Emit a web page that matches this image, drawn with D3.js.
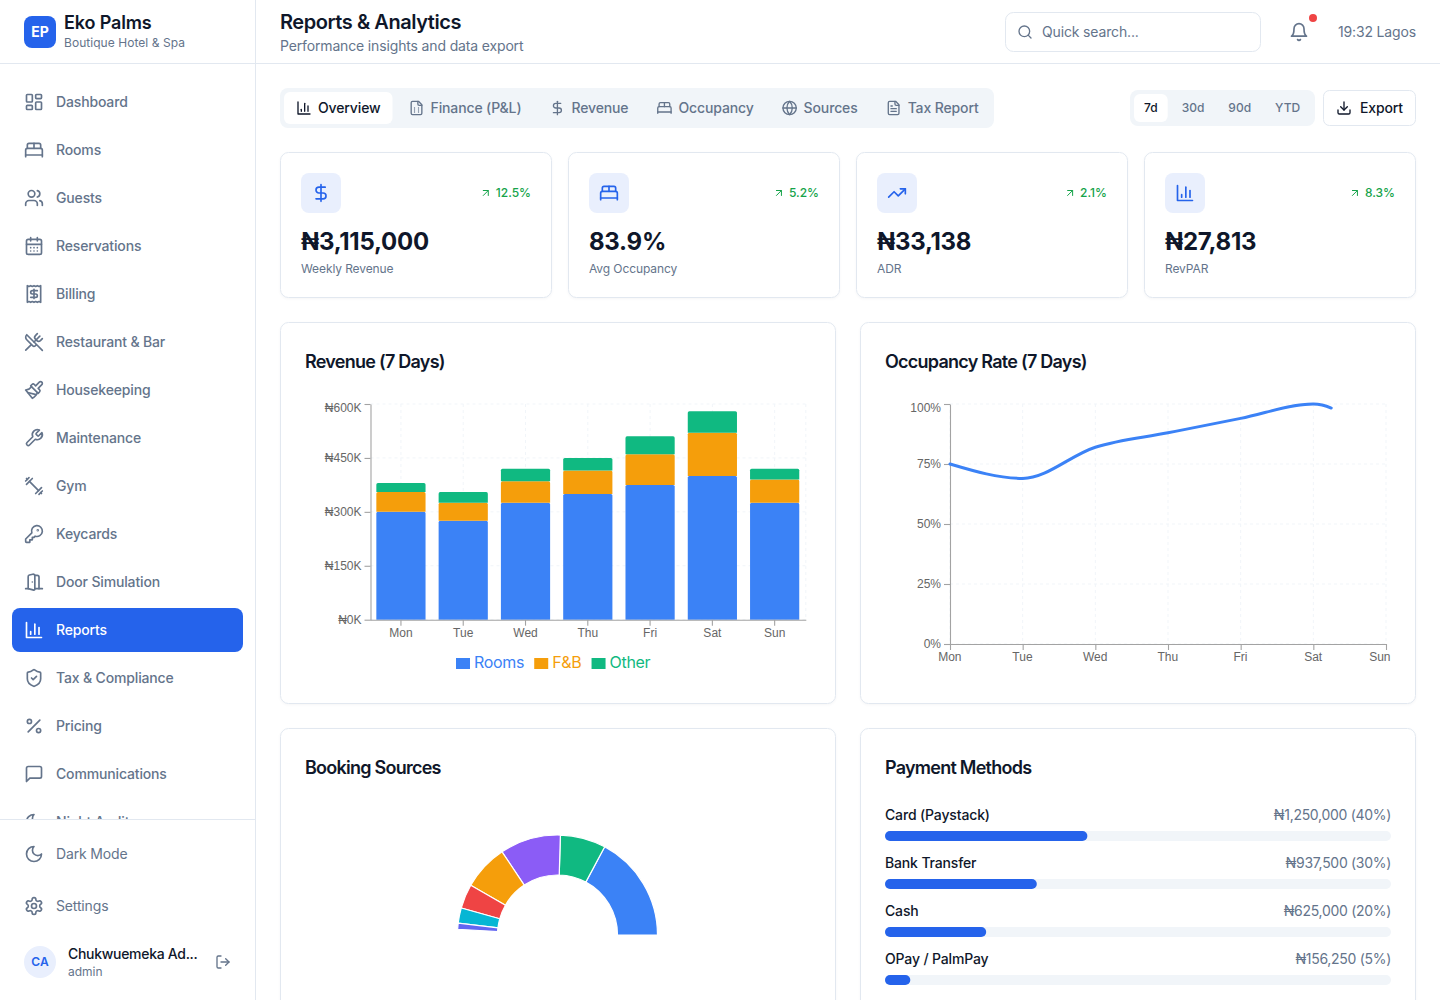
<!DOCTYPE html>
<html lang="en">
<head>
<meta charset="utf-8">
<title>Reports &amp; Analytics</title>
<script src="https://cdn.jsdelivr.net/npm/d3@7"></script>
<style>
html,body{margin:0;padding:0;background:#fff;overflow:hidden}
svg{display:block;font-family:Inter,"Noto Sans",sans-serif;-webkit-font-smoothing:antialiased}
.card{filter:drop-shadow(0 1px 1px rgba(15,23,42,.04))}
</style>
</head>
<body>
<div id="app"></div>
<script>
// ---- chart data ----
const days = ["Mon","Tue","Wed","Thu","Fri","Sat","Sun"];
const roomsRevenue = [300000,275000,325000,350000,375000,400000,325000];
const fnbRevenue = [55000,50000,60000,65000,85000,120000,65000];
const otherRevenue = [25000,30000,35000,35000,50000,60000,30000];
const revenueTicks = [0,150000,300000,450000,600000];
const seriesNames = ["Rooms","F&B","Other"];
const seriesColors = ["#3b82f6","#f59e0b","#10b981"];
const occupancy = [75,69,82,88,94,100,80];
const occupancyTicks = [0,25,50,75,100];
const sourceShares = [35,15,20,15,8,5,2];
const sourceColors = ["#3b82f6","#10b981","#8b5cf6","#f59e0b","#ef4444","#06b6d4","#6366f1"];
const paymentNames = ["Card (Paystack)","Bank Transfer","Cash","OPay / PalmPay"];
const paymentAmounts = ["₦1,250,000","₦937,500","₦625,000","₦156,250"];
const paymentShares = [40,30,20,5];
// ---- page content ----
const navLabels = ["Dashboard","Rooms","Guests","Reservations","Billing","Restaurant & Bar","Housekeeping","Maintenance","Gym","Keycards","Door Simulation","Reports","Tax & Compliance","Pricing","Communications","Night Audit"];
const navIcons = ["dashboard","bed","users","calendar","receipt","utensils","paintbrush","wrench","dumbbell","key","door","bars","shield","percent","message","moon"];
const tabLabels = ["Overview","Finance (P&L)","Revenue","Occupancy","Sources","Tax Report"];
const tabIcons = ["bars","fileCalc","dollar","bed","globe","fileText"];
const rangeLabels = ["7d","30d","90d","YTD"];
const kpiValues = ["₦3,115,000","83.9%","₦33,138","₦27,813"];
const kpiLabels = ["Weekly Revenue","Avg Occupancy","ADR","RevPAR"];
const kpiDeltas = ["12.5%","5.2%","2.1%","8.3%"];
const kpiIcons = ["dollar","bed","trending","bars"];

const BLUE="#2563eb", INK="#0f172a", MUTED="#64748b", LINE="#e2e8f0", SOFT="#f1f5f9", TINT="#e9effd", GREEN="#16a34a";

const ICONS = {
 dashboard:'<rect x="3" y="3" width="7" height="9" rx="1"/><rect x="14" y="3" width="7" height="5" rx="1"/><rect x="14" y="12" width="7" height="9" rx="1"/><rect x="3" y="16" width="7" height="5" rx="1"/>',
 bed:'<path d="M2 20v-8a2 2 0 0 1 2-2h16a2 2 0 0 1 2 2v8"/><path d="M4 10V6a2 2 0 0 1 2-2h12a2 2 0 0 1 2 2v4"/><path d="M12 4v6"/><path d="M2 18h20"/>',
 users:'<path d="M16 21v-2a4 4 0 0 0-4-4H6a4 4 0 0 0-4 4v2"/><circle cx="9" cy="7" r="4"/><path d="M22 21v-2a4 4 0 0 0-3-3.87"/><path d="M16 3.13a4 4 0 0 1 0 7.75"/>',
 calendar:'<rect x="3" y="4" width="18" height="18" rx="2"/><path d="M16 2v4M8 2v4M3 10h18M8 14h.01M12 14h.01M16 14h.01M8 18h.01M12 18h.01M16 18h.01"/>',
 receipt:'<path d="M4 2v20l2-1 2 1 2-1 2 1 2-1 2 1 2-1 2 1V2l-2 1-2-1-2 1-2-1-2 1-2-1-2 1Z"/><path d="M16 8h-6a2 2 0 1 0 0 4h4a2 2 0 1 1 0 4H8"/><path d="M12 17.5v-11"/>',
 utensils:'<path d="m16 2-2.3 2.3a3 3 0 0 0 0 4.2l1.8 1.8a3 3 0 0 0 4.2 0L22 8"/><path d="M15 15 3.3 3.3a4.2 4.2 0 0 0 0 6l7.3 7.3c.7.7 2 .7 2.8 0L15 15Zm0 0 7 7"/><path d="m2.1 21.8 6.4-6.3"/><path d="m19 5-7 7"/>',
 paintbrush:'<path d="M18.37 2.63 14 7l-1.59-1.59a2 2 0 0 0-2.82 0L8 7l9 9 1.59-1.59a2 2 0 0 0 0-2.82L17 10l4.37-4.37a2.12 2.12 0 1 0-3-3Z"/><path d="M9 8c-2 3-4 3.5-7 4l8 10c2-1 6-5 6-7"/><path d="M14.5 17.5 4.5 15"/>',
 wrench:'<path d="M14.7 6.3a1 1 0 0 0 0 1.4l1.6 1.6a1 1 0 0 0 1.4 0l3.77-3.77a6 6 0 0 1-7.94 7.94l-6.91 6.91a2.12 2.12 0 0 1-3-3l6.91-6.91a6 6 0 0 1 7.94-7.94l-3.76 3.76z"/>',
 dumbbell:'<path d="m6.5 6.5 11 11"/><path d="m21 21-1-1"/><path d="m3 3 1 1"/><path d="m18 22 4-4"/><path d="m2 6 4-4"/><path d="m3 10 7-7"/><path d="m14 21 7-7"/>',
 key:'<path d="M2 18v3c0 .6.4 1 1 1h4v-3h3v-3h2l1.4-1.4a6.5 6.5 0 1 0-4-4Z"/><circle cx="16.5" cy="7.5" r=".5"/>',
 door:'<path d="M13 4h3a2 2 0 0 1 2 2v14"/><path d="M2 20h3"/><path d="M13 20h9"/><path d="M10 12v.01"/><path d="M13 4.562v16.157a1 1 0 0 1-1.242.97L5 20V5.562a2 2 0 0 1 1.515-1.94l4-1A2 2 0 0 1 13 4.561Z"/>',
 bars:'<path d="M3 3v18h18"/><path d="M18 17V9"/><path d="M13 17V5"/><path d="M8 17v-3"/>',
 shield:'<path d="M20 13c0 5-3.5 7.5-7.66 8.95a1 1 0 0 1-.67-.01C7.5 20.5 4 18 4 13V6a1 1 0 0 1 1-1c2 0 4.5-1.2 6.24-2.72a1.17 1.17 0 0 1 1.52 0C14.51 3.81 17 5 19 5a1 1 0 0 1 1 1z"/><path d="m9 12 2 2 4-4"/>',
 percent:'<path d="M19 5 5 19"/><circle cx="6.5" cy="6.5" r="2.5"/><circle cx="17.5" cy="17.5" r="2.5"/>',
 message:'<path d="M21 15a2 2 0 0 1-2 2H7l-4 4V5a2 2 0 0 1 2-2h14a2 2 0 0 1 2 2z"/>',
 moon:'<path d="M12 3a6 6 0 0 0 9 9 9 9 0 1 1-9-9Z"/>',
 settings:'<path d="M12.22 2h-.44a2 2 0 0 0-2 2v.18a2 2 0 0 1-1 1.73l-.43.25a2 2 0 0 1-2 0l-.15-.08a2 2 0 0 0-2.73.73l-.22.38a2 2 0 0 0 .73 2.73l.15.1a2 2 0 0 1 1 1.72v.51a2 2 0 0 1-1 1.74l-.15.09a2 2 0 0 0-.73 2.73l.22.38a2 2 0 0 0 2.73.73l.15-.08a2 2 0 0 1 2 0l.43.25a2 2 0 0 1 1 1.73V20a2 2 0 0 0 2 2h.44a2 2 0 0 0 2-2v-.18a2 2 0 0 1 1-1.73l.43-.25a2 2 0 0 1 2 0l.15.08a2 2 0 0 0 2.73-.73l.22-.39a2 2 0 0 0-.73-2.73l-.15-.08a2 2 0 0 1-1-1.74v-.5a2 2 0 0 1 1-1.74l.15-.09a2 2 0 0 0 .73-2.73l-.22-.38a2 2 0 0 0-2.73-.73l-.15.08a2 2 0 0 1-2 0l-.43-.25a2 2 0 0 1-1-1.73V4a2 2 0 0 0-2-2z"/><circle cx="12" cy="12" r="3"/>',
 logout:'<path d="M9 21H5a2 2 0 0 1-2-2V5a2 2 0 0 1 2-2h4"/><path d="m16 17 5-5-5-5"/><path d="M21 12H9"/>',
 search:'<circle cx="11" cy="11" r="8"/><path d="m21 21-4.3-4.3"/>',
 bell:'<path d="M6 8a6 6 0 0 1 12 0c0 7 3 9 3 9H3s3-2 3-9"/><path d="M10.3 21a1.94 1.94 0 0 0 3.4 0"/>',
 fileCalc:'<path d="M15 2H6a2 2 0 0 0-2 2v16a2 2 0 0 0 2 2h12a2 2 0 0 0 2-2V7Z"/><path d="M14 2v4a2 2 0 0 0 2 2h4"/><path d="M9 12h.01M15 12h.01M9 15h.01M15 15h.01M9 18h.01M15 18h.01"/>',
 fileText:'<path d="M15 2H6a2 2 0 0 0-2 2v16a2 2 0 0 0 2 2h12a2 2 0 0 0 2-2V7Z"/><path d="M14 2v4a2 2 0 0 0 2 2h4"/><path d="M10 9H8"/><path d="M16 13H8"/><path d="M16 17H8"/>',
 dollar:'<path d="M12 2v20"/><path d="M17 5H9.5a3.5 3.5 0 0 0 0 7h5a3.5 3.5 0 0 1 0 7H6"/>',
 globe:'<circle cx="12" cy="12" r="10"/><path d="M12 2a14.5 14.5 0 0 0 0 20 14.5 14.5 0 0 0 0-20"/><path d="M2 12h20"/>',
 download:'<path d="M21 15v4a2 2 0 0 1-2 2H5a2 2 0 0 1-2-2v-4"/><path d="m7 10 5 5 5-5"/><path d="M12 15V3"/>',
 trending:'<path d="m22 7-8.5 8.5-5-5L2 17"/><path d="M16 7h6v6"/>',
 arrow:'<path d="M7 7h10v10"/><path d="M7 17 17 7"/>'
};

const svg = d3.select("#app").append("svg").attr("width",1440).attr("height",1000).attr("viewBox","0 0 1440 1000");
svg.append("rect").attr("width",1440).attr("height",1000).attr("fill","#fff");

function txt(p,x,y,s,o={}){
  const size=o.size||14;
  const lift=size<=16?1:(size===18?.5:0);
  const ls=o.ls!==undefined?o.ls:(size===14?-.15:(size===12?-.1:0));
  const t=p.append("text").attr("x",x).attr("y",y-lift).attr("dominant-baseline","central")
    .attr("font-size",size).attr("font-weight",o.weight||400).attr("fill",o.fill||INK)
    .attr("text-anchor",o.anchor||"start").text(s);
  if(ls) t.attr("letter-spacing",ls+"px");
  return t;
}
function icon(p,name,cx,cy,size,color,sw=2){
  const k=size/24;
  p.append("g").attr("transform",`translate(${cx-size/2},${cy-size/2}) scale(${k})`)
    .attr("fill","none").attr("stroke",color).attr("stroke-width",sw)
    .attr("stroke-linecap","round").attr("stroke-linejoin","round").html(ICONS[name]);
}
function box(p,x,y,w,h,r,fill,stroke,cls){
  const b=p.append("rect").attr("x",x+(stroke?.5:0)).attr("y",y+(stroke?.5:0)).attr("width",w-(stroke?1:0)).attr("height",h-(stroke?1:0)).attr("rx",r).attr("fill",fill);
  if(stroke) b.attr("stroke",stroke);
  if(cls) b.attr("class",cls);
  return b;
}
function hline(x1,x2,y){svg.append("line").attr("x1",x1).attr("x2",x2).attr("y1",y).attr("y2",y).attr("stroke",LINE);}

// ---- sidebar ----
const side=svg.append("g");
const defs=svg.append("defs");
defs.append("clipPath").attr("id","navClip").append("rect").attr("x",0).attr("y",64).attr("width",255).attr("height",755);
box(side,24,16,32,32,8,BLUE);
txt(side,40,32.5,"EP",{size:14,weight:700,fill:"#fff",anchor:"middle",ls:0});
txt(side,64,22.5,"Eko Palms",{size:18,weight:600,ls:-.15});
txt(side,64,43.2,"Boutique Hotel & Spa",{size:12,fill:MUTED,ls:.05});
const nav=side.append("g").attr("clip-path","url(#navClip)");
navLabels.forEach((label,i)=>{
  const y=102+48*i, on=label==="Reports", c=on?"#fff":MUTED;
  if(on) box(nav,12,y-22,231,44,8,BLUE);
  icon(nav,navIcons[i],34,y,20,c);
  txt(nav,56,y,label,{weight:500,fill:c});
});
hline(0,255,819.5); hline(0,255,63.5);
svg.append("line").attr("x1",255.5).attr("x2",255.5).attr("y1",0).attr("y2",1000).attr("stroke",LINE);
icon(side,"moon",34,854,20,MUTED); txt(side,56,854,"Dark Mode",{fill:MUTED});
icon(side,"settings",34,906,20,MUTED); txt(side,56,906,"Settings",{fill:MUTED});
side.append("circle").attr("cx",40).attr("cy",962).attr("r",16).attr("fill",TINT);
txt(side,40,962.5,"CA",{size:12,weight:600,fill:BLUE,anchor:"middle",ls:0});
txt(side,68,954,"Chukwuemeka Ad...",{weight:500,ls:-.3});
txt(side,68,972,"admin",{size:12,fill:MUTED,ls:0});
icon(side,"logout",223,962,16,MUTED);

// ---- header ----
const head=svg.append("g");
hline(256,1440,63.5);
txt(head,280,22,"Reports & Analytics",{size:20,weight:600,ls:-.45});
txt(head,280,46,"Performance insights and data export",{fill:MUTED});
box(head,1005,12,256,40,8,"#fff",LINE);
icon(head,"search",1025,32,16,MUTED);
txt(head,1042,32,"Quick search...",{fill:MUTED});
icon(head,"bell",1299,32,20,MUTED);
head.append("circle").attr("cx",1313).attr("cy",18).attr("r",4).attr("fill","#ef4444");
txt(head,1416,32,"19:32 Lagos",{fill:MUTED,anchor:"end"});

// ---- tabs ----
const tabs=svg.append("g");
box(tabs,280,88,714,40,8,SOFT);
let tx=284;
tabLabels.forEach((label,i)=>{
  const on=i===0, c=on?INK:MUTED;
  const bg=tabs.append("g");
  const t=txt(tabs,tx+34,108,label,{weight:500,fill:c,ls:-.13});
  const w=t.node().getComputedTextLength()+46;
  if(on) box(bg,tx,92,w,32,6,"#fff");
  icon(tabs,tabIcons[i],tx+20,108,16,c);
  tx+=w+4;
});
const range=svg.append("g");
box(range,1130,90,185,36,8,SOFT);
let rx=1134;
rangeLabels.forEach((label,i)=>{
  const on=i===0;
  const bg=range.append("g");
  const t=txt(range,rx+10,108,label,{size:12,weight:500,fill:on?INK:MUTED,ls:0});
  const w=t.node().getComputedTextLength()+20;
  if(on) box(bg,rx,94,w,28,6,"#fff");
  rx+=w+4;
});
box(svg,1323,90,93,36,6,"#fff",LINE);
icon(svg,"download",1344,108,16,INK);
txt(svg,1360,108,"Export",{weight:500});

// ---- KPI cards ----
kpiValues.forEach((v,i)=>{
  const x=280+288*i, g=svg.append("g");
  box(g,x,152,272,146,8,"#fff",LINE,"card");
  box(g,x+21,173,40,40,8,TINT);
  icon(g,kpiIcons[i],x+41,193,20,BLUE);
  const d=txt(g,x+251,193.5,kpiDeltas[i],{size:12,weight:500,fill:GREEN,anchor:"end",ls:0});
  icon(g,"arrow",x+251-d.node().getComputedTextLength()-10,193,12,GREEN);
  txt(g,x+21,241.5,v,{size:24,weight:700,ls:-.25});
  txt(g,x+21,269.5,kpiLabels[i],{size:12,fill:MUTED});
});

// ---- chart cards ----
[[280,322,382,"Revenue (7 Days)"],[860,322,382,"Occupancy Rate (7 Days)"],[280,728,300,"Booking Sources"],[860,728,300,"Payment Methods"]].forEach(([x,y,h,title])=>{
  box(svg,x,y,556,h,8,"#fff",LINE,"card");
  txt(svg,x+25,y+39.7,title,{size:18,weight:600,ls:-.75});
});

function styleAxis(g){
  g.selectAll(".domain,.tick line").attr("stroke","#a3a3a3").attr("stroke-width",1.1);
  g.selectAll("text").attr("fill","#666").attr("font-size",12).attr("font-family","inherit");
}
function grid(g,xs,ys,x0,x1,y0,y1){
  const dash=g.append("g").attr("stroke",SOFT).attr("stroke-dasharray","3 3").attr("fill","none");
  dash.selectAll(".h").data(ys).join("line").attr("x1",x0).attr("x2",x1).attr("y1",d=>d).attr("y2",d=>d);
  dash.selectAll(".v").data(xs).join("line").attr("y1",y0).attr("y2",y1).attr("x1",d=>d).attr("x2",d=>d);
}

// ---- Revenue stacked bars ----
const rev=svg.append("g");
const xBand=d3.scaleBand().domain(days).range([369.8,805.8]).paddingInner(.21).paddingOuter(.105);
const yRev=d3.scaleLinear().domain([0,600000]).range([619.7,404]);
grid(rev,days.map(d=>xBand(d)+xBand.bandwidth()/2).concat(805.8),revenueTicks.map(yRev),370.5,805.8,404,619.7);
const stackRows=days.map((d,i)=>({day:d,Rooms:roomsRevenue[i],"F&B":fnbRevenue[i],Other:otherRevenue[i]}));
const stacked=d3.stack().keys(seriesNames)(stackRows);
const topRounded=(x,y,w,h,r)=>{const p=d3.path();p.moveTo(x,y+h);p.lineTo(x,y+r);p.quadraticCurveTo(x,y,x+r,y);p.lineTo(x+w-r,y);p.quadraticCurveTo(x+w,y,x+w,y+r);p.lineTo(x+w,y+h);p.closePath();return p.toString();};
rev.selectAll("g.series").data(stacked).join("g").attr("class","series")
  .attr("fill",(d,i)=>seriesColors[i])
  .selectAll("path").data(d=>d).join("path")
  .attr("d",d=>topRounded(xBand(d.data.day),yRev(d[1]),xBand.bandwidth(),yRev(d[0])-yRev(d[1]),1.6));
const axRevY=rev.append("g").attr("transform","translate(370.5,0)")
  .call(d3.axisLeft(yRev).tickValues(revenueTicks).tickFormat(v=>"₦"+v/1000+"K").tickSizeOuter(0));
const axRevX=rev.append("g").attr("transform","translate(0,619.7)")
  .call(d3.axisBottom(xBand).tickSizeOuter(0));
styleAxis(axRevY);styleAxis(axRevX);
axRevY.selectAll(".tick text").filter(v=>v===600000).attr("dy","0.62em");
axRevY.selectAll(".tick text").filter(v=>v===0).attr("dy","0.32em");
let lx=456;
seriesNames.forEach((name,i)=>{
  rev.append("rect").attr("x",lx).attr("y",658).attr("width",14).attr("height",11).attr("fill",seriesColors[i]);
  const t=txt(rev,lx+18,662.5,name,{size:16,fill:seriesColors[i],ls:-.3});
  lx+=18+t.node().getComputedTextLength()+10;
});

// ---- Occupancy line ----
const occ=svg.append("g");
const xPt=d3.scalePoint().domain(days).range([950,1386]);
const yOcc=d3.scaleLinear().domain([0,100]).range([644,404]);
grid(occ,days.map(xPt),occupancyTicks.map(yOcc),950,1386,404,644);
const axOccY=occ.append("g").attr("transform","translate(950,0)")
  .call(d3.axisLeft(yOcc).tickValues(occupancyTicks).tickFormat(v=>v+"%").tickSizeOuter(0));
const axOccX=occ.append("g").attr("transform","translate(0,644)")
  .call(d3.axisBottom(xPt).tickSizeOuter(0));
styleAxis(axOccY);styleAxis(axOccX);
axOccY.selectAll(".tick text").filter(v=>v===100).attr("dy","0.62em");
axOccX.selectAll(".tick text").attr("dy","0.63em").attr("dx",-.7);
axOccX.selectAll(".tick text").filter(v=>v==="Sun").attr("dx",-6.7);
const occPath=occ.append("path").attr("fill","none").attr("stroke","#3b82f6").attr("stroke-width",3).attr("stroke-linecap","round")
  .attr("d",d3.line().x((d,i)=>xPt(days[i])).y(d=>yOcc(d)).curve(d3.curveMonotoneX)(occupancy));
// the reference catches the line mid reveal: show it up to about a quarter of the Sat-Sun step
(function(){
  const node=occPath.node(), total=node.getTotalLength();
  const stopX=xPt("Sat")+.245*xPt.step();
  let lo=0,hi=total;
  for(let i=0;i<30;i++){const m=(lo+hi)/2; if(node.getPointAtLength(m).x<stopX) lo=m; else hi=m;}
  occPath.attr("stroke-dasharray",lo+" "+total);
})();

// ---- Booking sources donut ----
const sweep=176.7*Math.PI/180;
const pie=d3.pie().sort(null).startAngle(Math.PI/2).endAngle(Math.PI/2-sweep);
const arc=d3.arc().innerRadius(60).outerRadius(100);
svg.append("g").attr("transform","translate(557.5,935)")
  .selectAll("path").data(pie(sourceShares)).join("path")
  .attr("d",arc).attr("fill",(d,i)=>sourceColors[i]).attr("stroke","#fff").attr("stroke-width",1.2);

// ---- Payment methods ----
const pay=svg.append("g");
const xPay=d3.scaleLinear().domain([0,100]).range([885,1391]);
paymentNames.forEach((name,i)=>{
  const y=815+48*i;
  txt(pay,885,y,name,{weight:500});
  txt(pay,1391,y,`${paymentAmounts[i]} (${paymentShares[i]}%)`,{fill:MUTED,anchor:"end",ls:-.3});
  pay.append("rect").attr("x",xPay(0)).attr("y",y+16).attr("width",xPay(100)-xPay(0)).attr("height",10).attr("rx",5).attr("fill",SOFT);
  pay.append("rect").attr("x",xPay(0)).attr("y",y+16).attr("width",xPay(paymentShares[i])-xPay(0)).attr("height",10).attr("rx",5).attr("fill",BLUE);
});
</script>
</body>
</html>
